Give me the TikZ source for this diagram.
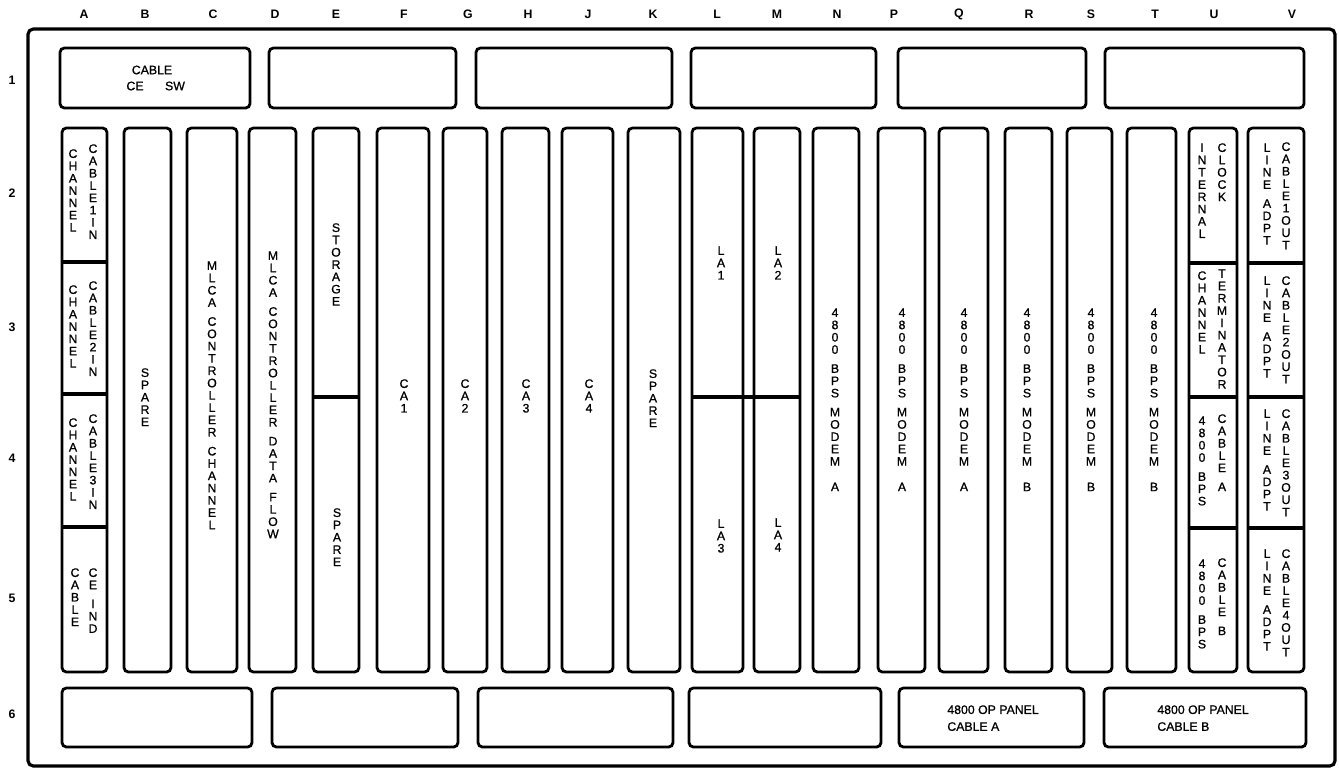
\documentclass[tikz,border=0pt]{standalone}
\usepackage{fontspec}
\setmainfont{Liberation Sans}
\newfontfamily\cardfont[FakeBold=0.9]{Liberation Sans}

% letters stacked one under the other, a space gives a small gap
\ExplSyntaxOn
\NewDocumentCommand \vtext { m }
 {
  \vbox:n
   {
    \offinterlineskip
    \str_map_inline:nn { #1 }
     {
      \str_if_in:nnTF { ~/ } { ##1 }
       { \skip_vertical:n { 3.8pt } }
       { \hbox_to_wd:nn { 8pt } { \hss \vrule~height~6pt~depth~1pt~width~0pt ##1 \hss } }
     }
   }
 }
\ExplSyntaxOff

\begin{document}
\begin{tikzpicture}[x=0.02cm,y=-0.02cm,
  frame/.style={line width=1.8pt,rounded corners=3pt},
  slot/.style={line width=1.6pt,rounded corners=2.5pt},
  split/.style={line width=2.8pt},
  lbl/.style={inner sep=0pt,anchor=north,font=\cardfont\fontsize{7}{8}\selectfont},
  hdr/.style={inner sep=0pt,font=\fontsize{7}{8}\selectfont\bfseries},
  txt/.style={inner sep=0pt,align=left,font=\cardfont\fontsize{7}{9.6}\selectfont}]
  \useasboundingbox (0,0) rectangle (1339,768);
  % Board outline
  \draw[frame] (28,29) rectangle (1335,766);
  % Column letters
  \node[hdr] (colA) at (84,14) {A};
  \node[hdr] (colB) at (145,14) {B};
  \node[hdr] (colC) at (213,14) {C};
  \node[hdr] (colD) at (275,14) {D};
  \node[hdr] (colE) at (336,14) {E};
  \node[hdr] (colF) at (404,14) {F};
  \node[hdr] (colG) at (468,14) {G};
  \node[hdr] (colH) at (528,14) {H};
  \node[hdr] (colJ) at (588,14) {J};
  \node[hdr] (colK) at (653,14) {K};
  \node[hdr] (colL) at (717,14) {L};
  \node[hdr] (colM) at (777,14) {M};
  \node[hdr] (colN) at (837,14) {N};
  \node[hdr] (colP) at (894,14) {P};
  \node[hdr] (colQ) at (959,14) {Q};
  \node[hdr] (colR) at (1029,14) {R};
  \node[hdr] (colS) at (1091,14) {S};
  \node[hdr] (colT) at (1155,14) {T};
  \node[hdr] (colU) at (1214,14) {U};
  \node[hdr] (colV) at (1292,14) {V};
  % Row numbers
  \node[hdr] (row1) at (12,80) {1};
  \node[hdr] (row2) at (12,193) {2};
  \node[hdr] (row3) at (12,327) {3};
  \node[hdr] (row4) at (12,458) {4};
  \node[hdr] (row5) at (12,598) {5};
  \node[hdr] (row6) at (12,714) {6};
  % Row 1 panels
  \draw[slot] (60,48) rectangle (250,108);
  \draw[slot] (269,48) rectangle (456,108);
  \draw[slot] (476,48) rectangle (672,108);
  \draw[slot] (691,48) rectangle (876,108);
  \draw[slot] (898,48) rectangle (1086,108);
  \draw[slot] (1105,48) rectangle (1304,108);
  \node[txt] (cable) at (152,70) {CABLE};
  \node[txt] (ce) at (135,86) {CE};
  \node[txt] (sw) at (175,86) {SW};
  % Card slots, rows 2 to 5
  \draw[slot] (62,128) rectangle (107,672);   % A
  \draw[slot] (124,128) rectangle (171,672);  % B
  \draw[slot] (187,128) rectangle (237,672);  % C
  \draw[slot] (249,128) rectangle (296,672);  % D
  \draw[slot] (313,128) rectangle (359,672);  % E
  \draw[slot] (377,128) rectangle (429,672);  % F
  \draw[slot] (443,128) rectangle (487,672);  % G
  \draw[slot] (502,128) rectangle (549,672);  % H
  \draw[slot] (562,128) rectangle (613,672);  % J
  \draw[slot] (628,128) rectangle (680,672);  % K
  \draw[slot] (692,128) rectangle (743,672);  % L
  \draw[slot] (754,128) rectangle (800,672);  % M
  \draw[slot] (813,128) rectangle (859,672);  % N
  \draw[slot] (878,128) rectangle (925,672);  % P
  \draw[slot] (939,128) rectangle (988,672);  % Q
  \draw[slot] (1005,128) rectangle (1052,672);% R
  \draw[slot] (1067,128) rectangle (1112,672);% S
  \draw[slot] (1127,128) rectangle (1176,672);% T
  \draw[slot] (1189,128) rectangle (1237,672);% U
  \draw[slot] (1248,128) rectangle (1304,672);% V
  % Split cards
  \draw[split] (62,262) -- (107,262);
  \draw[split] (62,394) -- (107,394);
  \draw[split] (62,527) -- (107,527);
  \draw[split] (313,397) -- (359,397);
  \draw[split] (692,397) -- (800,397);
  \draw[split] (1189,263) -- (1237,263);
  \draw[split] (1189,397) -- (1237,397);
  \draw[split] (1189,528) -- (1237,528);
  \draw[split] (1248,263) -- (1304,263);
  \draw[split] (1248,397) -- (1304,397);
  \draw[split] (1248,528) -- (1304,528);
  % Slot A
  \node[lbl] (a1l) at (73,147) {\vtext{CHANNEL}};
  \node[lbl] (a1r) at (93,142) {\vtext{CABLE1IN}};
  \node[lbl] (a2l) at (73,283) {\vtext{CHANNEL}};
  \node[lbl] (a2r) at (93,279) {\vtext{CABLE2IN}};
  \node[lbl] (a3l) at (73,416) {\vtext{CHANNEL}};
  \node[lbl] (a3r) at (93,412) {\vtext{CABLE3IN}};
  \node[lbl] (a4l) at (75,566) {\vtext{CABLE}};
  \node[lbl] (a4r) at (93,566) {\vtext{CE IND}};
  % Slots B to K
  \node[lbl] (bspare) at (145,366) {\vtext{SPARE}};
  \node[lbl] (cmlca) at (212,259) {\vtext{MLCA CONTROLLER CHANNEL}};
  \node[lbl] (dmlca) at (273,249) {\vtext{MLCA CONTROLLER DATA FLOW}};
  \node[lbl] (estore) at (336,221) {\vtext{STORAGE}};
  \node[lbl] (espare) at (337,506) {\vtext{SPARE}};
  \node[lbl] (fca) at (404,377) {\vtext{CA1}};
  \node[lbl] (gca) at (465,377) {\vtext{CA2}};
  \node[lbl] (hca) at (526,377) {\vtext{CA3}};
  \node[lbl] (jca) at (589,377) {\vtext{CA4}};
  \node[lbl] (kspare) at (653,367) {\vtext{SPARE}};
  % Line adapters
  \node[lbl] (la1) at (721,244) {\vtext{LA1}};
  \node[lbl] (la2) at (778,244) {\vtext{LA2}};
  \node[lbl] (la3) at (721,517) {\vtext{LA3}};
  \node[lbl] (la4) at (778,516) {\vtext{LA4}};
  % Modems
  \node[lbl] (nmod) at (835,306) {\vtext{4800 BPS MODEM /A}};
  \node[lbl] (pmod) at (902,306) {\vtext{4800 BPS MODEM /A}};
  \node[lbl] (qmod) at (964,306) {\vtext{4800 BPS MODEM /A}};
  \node[lbl] (rmod) at (1027,306) {\vtext{4800 BPS MODEM /B}};
  \node[lbl] (smod) at (1091,306) {\vtext{4800 BPS MODEM /B}};
  \node[lbl] (tmod) at (1154,306) {\vtext{4800 BPS MODEM /B}};
  % Slot U
  \node[lbl] (u1l) at (1202,141) {\vtext{INTERNAL}};
  \node[lbl] (u1r) at (1222,141) {\vtext{CLOCK}};
  \node[lbl] (u2l) at (1202,269) {\vtext{CHANNEL}};
  \node[lbl] (u2r) at (1222,267) {\vtext{TERMINATOR}};
  \node[lbl] (u3l) at (1202,414) {\vtext{4800 BPS}};
  \node[lbl] (u3r) at (1222,412) {\vtext{CABLE A}};
  \node[lbl] (u4l) at (1202,557) {\vtext{4800 BPS}};
  \node[lbl] (u4r) at (1222,556) {\vtext{CABLE B}};
  % Slot V
  \node[lbl] (v1l) at (1267,141) {\vtext{LINE ADPT}};
  \node[lbl] (v1r) at (1286,140) {\vtext{CABLE1OUT}};
  \node[lbl] (v2l) at (1267,274) {\vtext{LINE ADPT}};
  \node[lbl] (v2r) at (1286,274) {\vtext{CABLE2OUT}};
  \node[lbl] (v3l) at (1267,407) {\vtext{LINE ADPT}};
  \node[lbl] (v3r) at (1286,407) {\vtext{CABLE3OUT}};
  \node[lbl] (v4l) at (1267,547) {\vtext{LINE ADPT}};
  \node[lbl] (v4r) at (1286,547) {\vtext{CABLE4OUT}};
  % Row 6 panels
  \draw[slot] (62,688) rectangle (252,747);
  \draw[slot] (272,688) rectangle (458,747);
  \draw[slot] (478,688) rectangle (673,747);
  \draw[slot] (689,688) rectangle (881,747);
  \draw[slot] (899,688) rectangle (1084,747);
  \draw[slot] (1104,688) rectangle (1306,747);
  \node[txt,anchor=north west] (opa) at (947,705) {4800 OP PANEL\\CABLE A};
  \node[txt,anchor=north west] (opb) at (1157,705) {4800 OP PANEL\\CABLE B};
\end{tikzpicture}
\end{document}
